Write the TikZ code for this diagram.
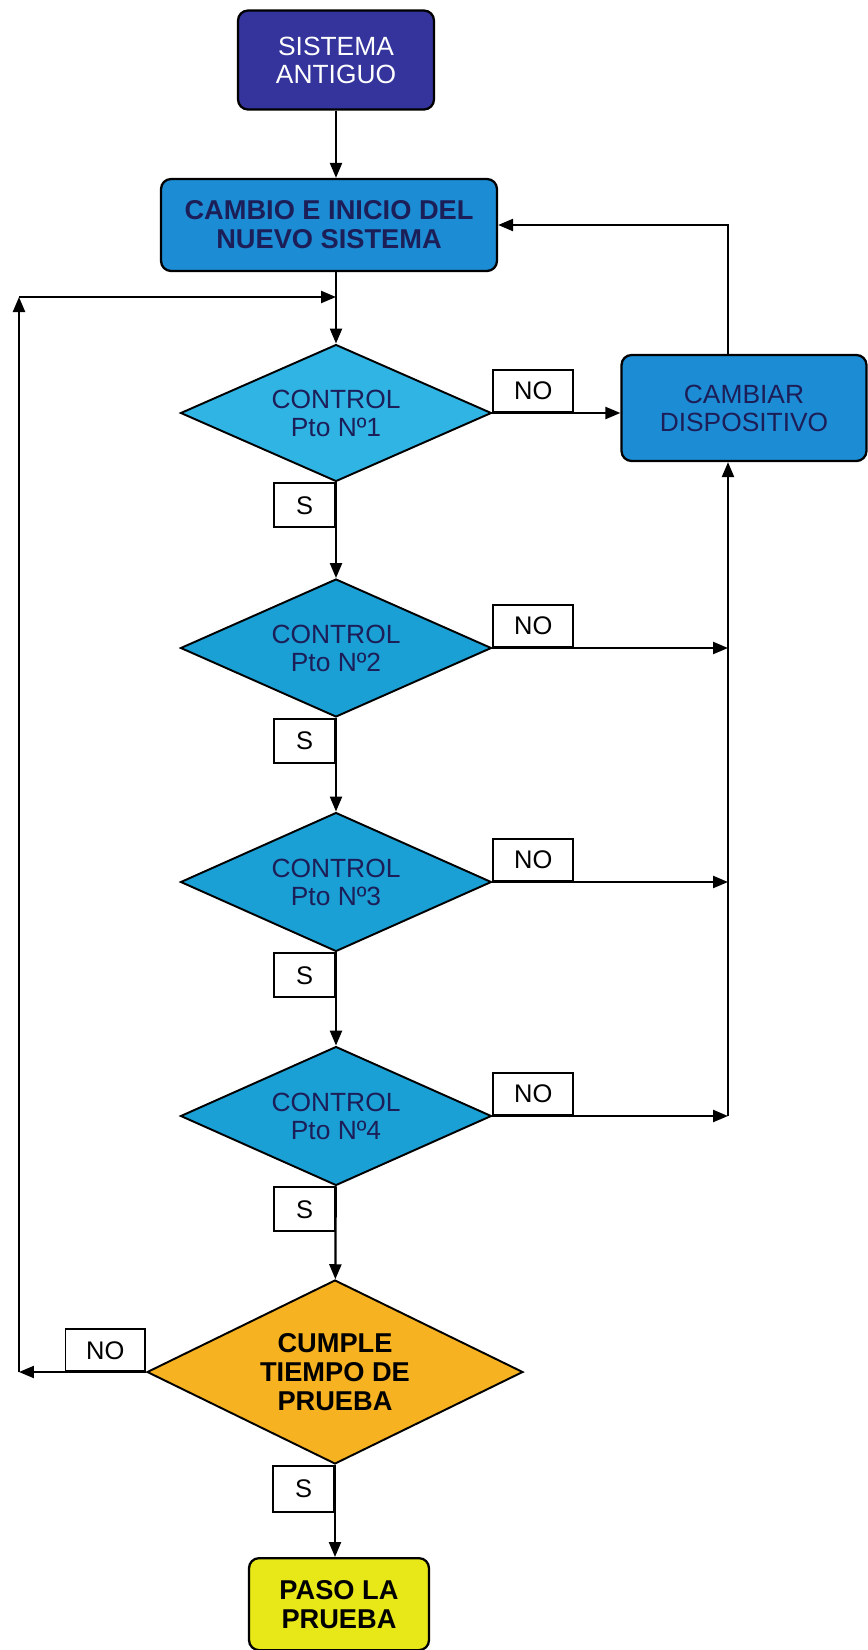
\documentclass[tikz,border=0pt]{standalone}
\usepackage{fontspec}
\setmainfont{Liberation Sans}
\usetikzlibrary{positioning,arrows.meta,shapes.geometric}

\definecolor{oldblue}{RGB}{52,52,156}
\definecolor{boxblue}{RGB}{28,140,212}
\definecolor{ctrlone}{RGB}{48,180,228}
\definecolor{ctrlblue}{RGB}{26,160,212}
\definecolor{testorange}{RGB}{246,178,32}
\definecolor{passyellow}{RGB}{232,232,24}
\definecolor{navytext}{RGB}{28,30,88}

\begin{document}
\begin{tikzpicture}[
  x=0.02cm, y=-0.02cm,
  >={Triangle[length=0.3cm,width=0.24cm]}, % filled tips
  line width=1.3pt,
  font=\fontsize{15}{16}\selectfont,
  block/.style={rectangle, rounded corners=0.2cm, draw, line width=1.3pt, align=center, inner sep=0pt},
  decision/.style={diamond, draw, line width=1.1pt, align=center, inner sep=0pt, aspect=2.2, text=navytext},
  answer/.style={rectangle, draw, fill=white, line width=0.9pt, inner sep=0pt, font=\fontsize{14.5}{15}\selectfont},
  boldtext/.style={font=\fontsize{15.5}{16.5}\selectfont\bfseries}
]
\useasboundingbox (0,0) rectangle (868,1650);

% Nodes
\node[block, fill=oldblue, text=white, minimum width=3.92cm, minimum height=1.98cm] (old) at (336,60) {SISTEMA\\ANTIGUO};
\node[block, boldtext, fill=boxblue, text=navytext, minimum width=6.72cm, minimum height=1.84cm] (start) at (329,225) {CAMBIO E INICIO DEL\\NUEVO SISTEMA};
\node[block, fill=boxblue, text=navytext, minimum width=4.9cm, minimum height=2.12cm] (change) at (744,408) {CAMBIAR\\DISPOSITIVO};

\node[decision, fill=ctrlone,  minimum width=6.22cm, minimum height=2.74cm] (c1) at (336,413)  {CONTROL\\Pto Nº1};
\node[decision, fill=ctrlblue, minimum width=6.22cm, minimum height=2.76cm] (c2) at (336,648)  {CONTROL\\Pto Nº2};
\node[decision, fill=ctrlblue, minimum width=6.22cm, minimum height=2.78cm] (c3) at (336,882)  {CONTROL\\Pto Nº3};
\node[decision, fill=ctrlblue, minimum width=6.22cm, minimum height=2.78cm] (c4) at (336,1116) {CONTROL\\Pto Nº4};
\node[decision, boldtext, fill=testorange, text=black, aspect=2, minimum width=7.52cm, minimum height=3.68cm] (test) at (335,1372) {CUMPLE\\TIEMPO DE\\PRUEBA};
\node[block, boldtext, fill=passyellow, text=black, anchor=north, minimum width=3.6cm, minimum height=1.84cm] (pass) at (339,1557) {PASO LA\\PRUEBA};

\coordinate (rail) at (728,1116);
\coordinate (loopdown) at (19,1372);
\coordinate (loopup) at (19,297);

% Edges
\draw[->] (old.south) -- (old.south |- start.north);
\draw[->] (start.south -| c1.north) -- (c1.north);
\draw[->] (c1) -- (c2);
\draw[->] (c2) -- (c3);
\draw[->] (c3) -- (c4);
\draw[->] (c4) -- (test);
\draw[->] (test.south) -- (test.south |- pass.north);

\draw[->] (c1.east) -- (c1.east -| change.west);
\draw[->] (c2.east) -- (c2.east -| rail);
\draw[->] (c3.east) -- (c3.east -| rail);
\draw[->] (c4.east) -- (rail);
\draw[->] (rail) -- (change.south -| rail);
\draw[->] (change.north -| rail) |- (start.east);

\draw[->] (test.west) -- (loopdown);
\draw[->] (loopdown) -- (loopup);
\draw[->] (loopup) -- (loopup -| c1.north);

% Labels
\node[answer, anchor=south west, minimum width=1.6cm, minimum height=0.84cm] (no1) at (c1.east) {NO};
\node[answer, anchor=south west, minimum width=1.6cm, minimum height=0.84cm] (no2) at (c2.east) {NO};
\node[answer, anchor=south west, minimum width=1.6cm, minimum height=0.84cm] (no3) at (c3.east) {NO};
\node[answer, anchor=south west, minimum width=1.6cm, minimum height=0.84cm] (no4) at (c4.east) {NO};
\node[answer, anchor=south east, minimum width=1.6cm, minimum height=0.84cm] (no5) at (test.west) {NO};
\node[answer, anchor=north east, minimum width=1.22cm, minimum height=0.88cm] (yes1) at (c1.south) {S};
\node[answer, anchor=north east, minimum width=1.22cm, minimum height=0.88cm] (yes2) at (c2.south) {S};
\node[answer, anchor=north east, minimum width=1.22cm, minimum height=0.88cm] (yes3) at (c3.south) {S};
\node[answer, anchor=north east, minimum width=1.22cm, minimum height=0.88cm] (yes4) at (c4.south) {S};
\node[answer, anchor=north east, minimum width=1.22cm, minimum height=0.92cm] (yes5) at (test.south) {S};
\end{tikzpicture}
\end{document}
